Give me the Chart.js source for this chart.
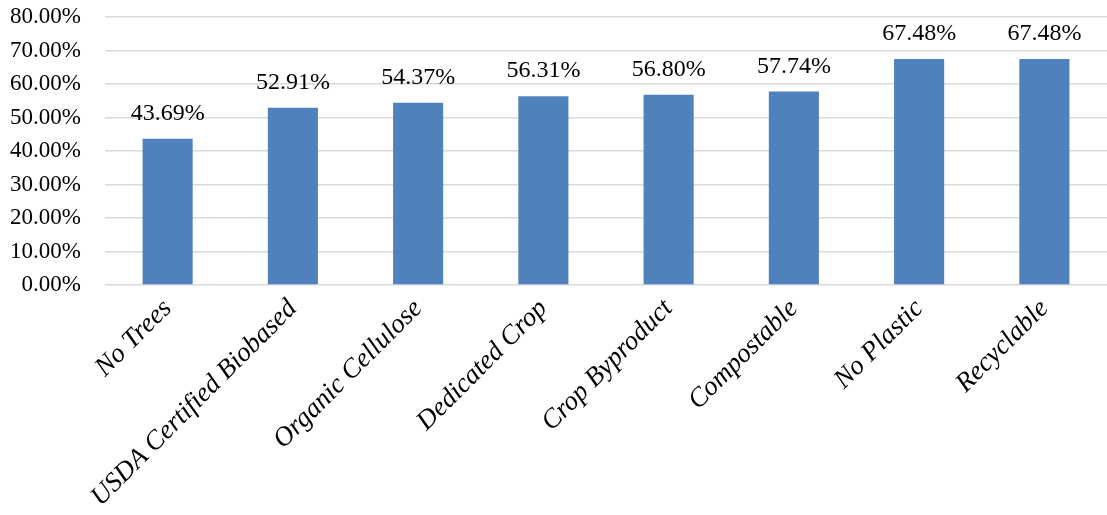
<!DOCTYPE html>
<html>
<head>
<meta charset="utf-8">
<script src="https://cdn.jsdelivr.net/npm/chart.js@4"></script>
<style>
  html, body { margin:0; padding:0; background:#fff; }
  #wrap { width:1107px; height:515px; position:relative; }
</style>
</head>
<body>
<div id="wrap"><canvas id="chart"></canvas></div>
<script>
const categories = ['No Trees', 'USDA Certified Biobased', 'Organic Cellulose', 'Dedicated Crop',
  'Crop Byproduct', 'Compostable', 'No Plastic', 'Recyclable'];
const shares = [43.69, 52.91, 54.37, 56.31, 56.80, 57.74, 67.48, 67.48];
const yTicks = [0, 10, 20, 30, 40, 50, 60, 70, 80];

const FONT = '"Liberation Serif", "Times New Roman", serif';

// value labels over each bar
const barLabels = {
  id: 'barLabels',
  afterDatasetsDraw(chart) {
    const ctx = chart.ctx;
    const meta = chart.getDatasetMeta(0);
    ctx.save();
    ctx.font = `24px ${FONT}`;
    ctx.fillStyle = '#000';
    ctx.textAlign = 'center';
    ctx.textBaseline = 'alphabetic';
    meta.data.forEach((bar, i) => {
      ctx.fillText(shares[i].toFixed(2) + '%', bar.x, bar.y - 19);
    });
    ctx.restore();
  }
};

new Chart(document.getElementById('chart'), {
  type: 'bar',
  data: {
    labels: categories,
    datasets: [{
      data: shares,
      backgroundColor: '#4F81BD',
      borderWidth: 0,
      barPercentage: 0.4,
      categoryPercentage: 1.0,
    }]
  },
  options: {
    responsive: true,
    maintainAspectRatio: false,
    animation: false,
    layout: { padding: { top: 17, right: 0, left: 0, bottom: 0 } },
    plugins: { legend: { display: false }, tooltip: { enabled: false } },
    scales: {
      x: {
        grid: { display: false },
        border: { display: false },
        ticks: {
          color: '#000',
          font: { family: FONT, size: 27, style: 'italic' },
          maxRotation: 45, minRotation: 45,
          padding: 0,
        },
        afterFit(scale) {
          scale.height = 230;
          scale.paddingLeft = 0; scale.paddingRight = 0;
          scale.paddingTop = 0; scale.paddingBottom = 0;
        },
      },
      y: {
        min: 0, max: 80,
        afterBuildTicks(scale) { scale.ticks = yTicks.map(v => ({ value: v })); },
        grid: { color: '#d9d9d9', lineWidth: 1.5, drawTicks: false },
        border: { display: false },
        ticks: {
          color: '#000',
          font: { family: FONT, size: 23 },
          padding: 24,
          callback: v => v.toFixed(2) + '%',
        },
        afterFit(scale) {
          scale.width = 105;
          scale.paddingTop = 0; scale.paddingBottom = 0;
        },
      }
    }
  },
  plugins: [barLabels]
});
</script>
</body>
</html>
